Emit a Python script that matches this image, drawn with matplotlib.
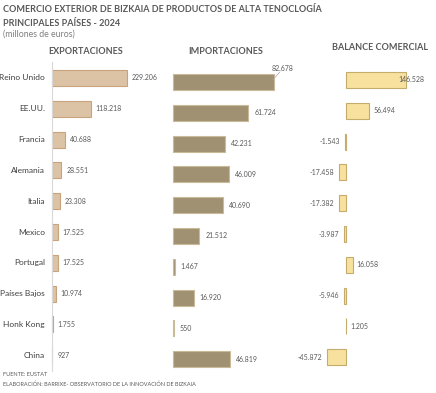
import matplotlib
matplotlib.use('Agg')
import matplotlib.pyplot as plt

paises = ['Reino Unido', 'EE.UU.', 'Francia', 'Alemania', 'Italia', 'Mexico',
          'Portugal', 'Países Bajos', 'Honk Kong', 'China']
exportaciones = [229206, 118218, 40688, 28551, 23308, 17525, 17525, 10974, 1755, 927]
importaciones = [82678, 61724, 42231, 46009, 40690, 21512, 1467, 16920, 550, 46819]
balance = [146528, 56494, -1543, -17458, -17382, -3987, 16058, -5946, 1205, -45872]

W, H = 436, 393
GRIS = '#595959'
plt.rcParams['font.family'] = ['Lato', 'DejaVu Sans']

fig = plt.figure(figsize=(W / 100, H / 100), dpi=100)
fig.patch.set_facecolor('white')

def fmt(v):
    return f'{v:,}'.replace(',', '.')

# panel en coordenadas de pixel: x0 = posición del cero, esc = px por unidad
def panel(x_izq, x_der, x0, esc, y_top, y_bot, y_fila0, paso):
    ax = fig.add_axes([x_izq / W, 1 - y_bot / H, (x_der - x_izq) / W, (y_bot - y_top) / H])
    ax.set_xlim((x_izq - x0) / esc, (x_der - x0) / esc)
    ax.set_ylim((y_bot - y_fila0) / paso, (y_top - y_fila0) / paso)
    ax.axis('off')
    return ax

paso = 30.8
alto = 16 / paso
y = list(range(len(paises)))
FS = 5.0

# Exportaciones
esc_e = 75 / 229206
ax1 = panel(0, 172, 52, esc_e, 62, 372, 78, paso)
ax1.barh(y, exportaciones, height=alto, color='#DDC3A6', edgecolor='#C9A37C', linewidth=0.8)
ax1.axvline(0, color='#D9D9D9', lw=0.8)
for i, v in enumerate(exportaciones):
    ax1.text(v + 5 / esc_e, i, fmt(v), fontsize=FS, color=GRIS, va='center', ha='left')
    ax1.text(-7 / esc_e, i, paises[i], fontsize=6.0, color='#404040', va='center', ha='right')

# Importaciones
esc_i = 101 / 82678
ax2 = panel(172, 300, 173, esc_i, 62, 372, 82, paso)
ax2.barh(y, importaciones, height=alto, color='#A09172', edgecolor='#C9BB9A', linewidth=0.8)
for i, v in enumerate(importaciones):
    if i == 0:
        ax2.plot([v - 1 / esc_i, v + 6 / esc_i], [i - 0.08, i - 0.33], color='#A6A6A6', lw=0.5)
        ax2.text(v + 9 / esc_i, i - 0.43, fmt(v), fontsize=FS, color=GRIS, va='center', ha='center')
    else:
        ax2.text(v + 6 / esc_i, i, fmt(v), fontsize=FS, color=GRIS, va='center', ha='left')

# Balance comercial
esc_b = 60 / 146528
ax3 = panel(300, 436, 346, esc_b, 62, 372, 80, paso)
ax3.barh(y, balance, height=alto, color='#F8E09F', edgecolor='#C4AC6C', linewidth=0.8)
for i, v in enumerate(balance):
    if i == 0:
        ax3.text(v - 8 / esc_b, i, fmt(v), fontsize=FS, color=GRIS, va='center', ha='left')
    elif v >= 0:
        ax3.text(v + 4 / esc_b, i, fmt(v), fontsize=FS, color=GRIS, va='center', ha='left')
    else:
        ax3.text(v - 5 / esc_b, i, fmt(v), fontsize=FS, color=GRIS, va='center', ha='right')

# Títulos
fig.text(3 / W, 1 - 10 / H, 'COMERCIO EXTERIOR DE BIZKAIA DE PRODUCTOS DE ALTA TENOCLOGÍA',
         fontsize=6.5, fontweight='bold', color=GRIS, va='center')
fig.text(3 / W, 1 - 23 / H, 'PRINCIPALES PAÍSES - 2024',
         fontsize=6.5, fontweight='bold', color=GRIS, va='center')
fig.text(3 / W, 1 - 34 / H, '(millones de euros)', fontsize=6.3, color='#7F7F7F', va='center')
fig.text(86 / W, 1 - 51 / H, 'EXPORTACIONES', fontsize=6.5, fontweight='bold', color=GRIS, va='center', ha='center')
fig.text(226 / W, 1 - 51 / H, 'IMPORTACIONES', fontsize=6.5, fontweight='bold', color=GRIS, va='center', ha='center')
fig.text(380 / W, 1 - 47 / H, 'BALANCE COMERCIAL', fontsize=6.5, fontweight='bold', color=GRIS, va='center', ha='center')

# Fuente
fig.text(3 / W, 1 - 374 / H, 'FUENTE: EUSTAT', fontsize=4.0, color=GRIS, va='center')
fig.text(3 / W, 1 - 384 / H, 'ELABORACIÓN: BARRIXE- OBSERVATORIO DE LA INNOVACIÓN DE BIZKAIA',
         fontsize=4.0, color=GRIS, va='center')

fig.savefig('out.png', dpi=100)
